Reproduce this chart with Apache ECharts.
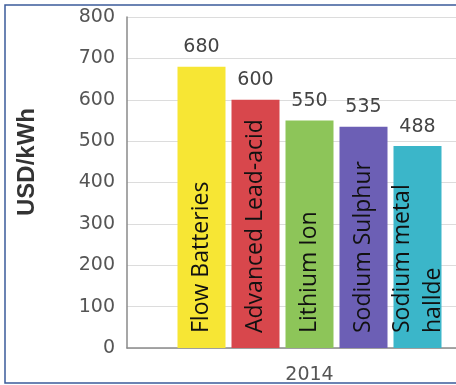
<!DOCTYPE html>
<html><head><meta charset="utf-8">
<script src="https://cdn.jsdelivr.net/npm/echarts@6/dist/echarts.min.js"></script>
<style>html,body{margin:0;padding:0;background:#fff;overflow:hidden;width:456px;height:385px}#c{width:492px;height:385px}</style>
</head><body><div id="c"></div>
<script>
const categories = ['2014'];
const seriesNames = ['Flow Batteries', 'Advanced Lead-acid', 'Lithium Ion', 'Sodium Sulphur', 'Sodium metal\nhallde'];
const values = [680, 600, 550, 535, 488];
const colors = ['#f7e634', '#d8474c', '#8dc559', '#6c5fb5', '#3bb6c9'];
const yTicks = {min: 0, max: 800, interval: 100};
const yName = 'USD/kWh';

const chart = echarts.init(document.getElementById('c'), null, {renderer: 'canvas'});
const barSeries = seriesNames.map((n, i) => ({
  name: n, type: 'bar', data: [values[i]], xAxisIndex: 0,
  barWidth: 48, barGap: '12.5%',
  itemStyle: {color: colors[i]},
  label: {
    show: true, position: 'insideBottom', rotate: 90, align: 'left', verticalAlign: 'middle',
    distance: 15, formatter: n, color: '#111', fontSize: 23, lineHeight: 31,
    fontFamily: 'Open Sans'
  }
}));
const valueSeries = seriesNames.map((n, i) => ({
  name: n + ' value', type: 'bar', data: [values[i]], xAxisIndex: 1,
  barWidth: 48, barGap: '12.5%', silent: true, z: 5,
  itemStyle: {color: 'rgba(0,0,0,0)'},
  label: {show: true, position: 'top', distance: 10, color: '#444', fontSize: 19, fontFamily: 'DejaVu Sans'}
}));
chart.setOption({
  backgroundColor: '#fff',
  animation: false,
  grid: {left: 127, top: 17, bottom: 37, right: 0},
  xAxis: [{
    type: 'category', data: categories,
    axisLine: {lineStyle: {color: '#8a8a8a', width: 1.5}},
    axisTick: {show: false},
    axisLabel: {color: '#555', fontSize: 19, fontFamily: 'DejaVu Sans', margin: 18}
  }, {
    type: 'category', data: categories, show: false
  }],
  yAxis: {
    type: 'value', min: yTicks.min, max: yTicks.max, interval: yTicks.interval,
    axisLine: {show: true, lineStyle: {color: '#8a8a8a', width: 1.5}},
    axisTick: {show: false},
    axisLabel: {color: '#555', fontSize: 19, fontFamily: 'DejaVu Sans', margin: 12},
    splitLine: {lineStyle: {color: '#dcdcdc', width: 1}}
  },
  graphic: [
    {type: 'rect', shape: {x: 5, y: 5, width: 500, height: 378}, style: {fill: 'none', stroke: '#3b5b9a', lineWidth: 1.5}, z: 100},
    {type: 'text', x: 27, y: 162, rotation: Math.PI / 2,
      style: {text: yName, fill: '#333', font: 'bold 24px "Liberation Sans"', textAlign: 'center', textVerticalAlign: 'middle'}}
  ],
  series: barSeries.concat(valueSeries)
});
</script>
</body></html>
